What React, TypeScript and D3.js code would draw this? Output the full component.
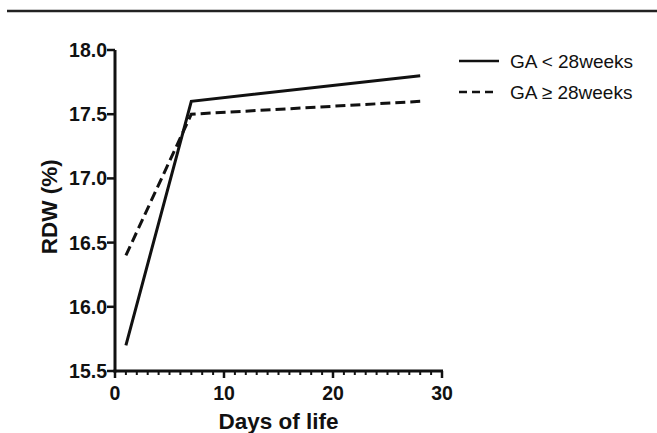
import React from 'react'
import { scaleLinear, line, range } from 'd3'

const width = 657
const height = 433

const days = [1, 7, 28]
const gaUnder28 = [15.7, 17.6, 17.8]
const gaOver28 = [16.4, 17.5, 17.6]
const seriesNames = ['GA < 28weeks', 'GA \u2265 28weeks']
const yTicks = [15.5, 16.0, 16.5, 17.0, 17.5, 18.0]
const xTicks = [0, 10, 20, 30]

const x = scaleLinear().domain([0, 30]).range([115, 442])
const y = scaleLinear().domain([15.5, 18]).range([371, 50])

const font = '"Liberation Sans", Arial, Helvetica, sans-serif'

const pathFor = (vals: number[]) =>
  line<number>()
    .x((d, i) => x(days[i]))
    .y(d => y(d))(vals) as string

export default function App() {
  const series = [
    { name: seriesNames[0], vals: gaUnder28, dash: undefined },
    { name: seriesNames[1], vals: gaOver28, dash: '10,5' },
  ]

  return (
    <svg width={width} height={height} style={{ position: 'absolute', left: 0, top: 0, background: '#fff' }}>
      {/* rule at the top */}
      <line x1={7} x2={657} y1={11} y2={11} stroke="#222" strokeWidth={2.5} />

      {/* y axis */}
      <line x1={x(0)} x2={x(0)} y1={y(18)} y2={y(15.5) + 1.5} stroke="#111" strokeWidth={3} />
      {yTicks.map(t => (
        <g key={t}>
          <line x1={x(0) - 8} x2={x(0)} y1={y(t)} y2={y(t)} stroke="#111" strokeWidth={2.5} />
          <text x={x(0) - 8} y={y(t)} dy="0.36em" textAnchor="end"
            style={{ fontFamily: font, fontWeight: 'bold', fontSize: 19.5, fill: '#111' }}>
            {t.toFixed(1)}
          </text>
        </g>
      ))}

      {/* x axis */}
      <line x1={x(0) - 1.5} x2={x(30) + 1} y1={y(15.5)} y2={y(15.5)} stroke="#111" strokeWidth={3} />
      {range(1, 30).filter(d => d % 10 !== 0).map(d => (
        <line key={d} x1={x(d)} x2={x(d)} y1={y(15.5)} y2={y(15.5) + 4} stroke="#111" strokeWidth={2} />
      ))}
      {xTicks.map(t => (
        <g key={t}>
          <line x1={x(t)} x2={x(t)} y1={y(15.5)} y2={y(15.5) + 7} stroke="#111" strokeWidth={2.5} />
          <text x={x(t)} y={400} textAnchor="middle"
            style={{ fontFamily: font, fontWeight: 'bold', fontSize: 19.5, fill: '#111' }}>
            {t}
          </text>
        </g>
      ))}

      {/* axis titles */}
      <text x={x(15)} y={429} textAnchor="middle"
        style={{ fontFamily: font, fontWeight: 'bold', fontSize: 22.5, fill: '#111' }}>
        Days of life
      </text>
      <text transform={`translate(57,${y(16.78)}) rotate(-90)`} textAnchor="middle"
        style={{ fontFamily: font, fontWeight: 'bold', fontSize: 22.5, fill: '#111' }}>
        RDW (%)
      </text>

      {/* lines */}
      {series.map(s => (
        <path key={s.name} d={pathFor(s.vals)} fill="none" stroke="#111"
          strokeWidth={3} strokeDasharray={s.dash} strokeLinejoin="miter" />
      ))}

      {/* legend */}
      {series.map((s, i) => (
        <g key={s.name} transform={`translate(459,${61 + i * 31})`}>
          <line x1={0} x2={s.dash ? 34 : 40} y1={0} y2={0} stroke="#111" strokeWidth={2.5}
            strokeDasharray={s.dash ? '8,5' : undefined} />
          <text x={51} y={0} dy="0.36em"
            style={{ fontFamily: font, fontSize: 19, fill: '#111' }}>
            {s.name}
          </text>
        </g>
      ))}
    </svg>
  )
}
